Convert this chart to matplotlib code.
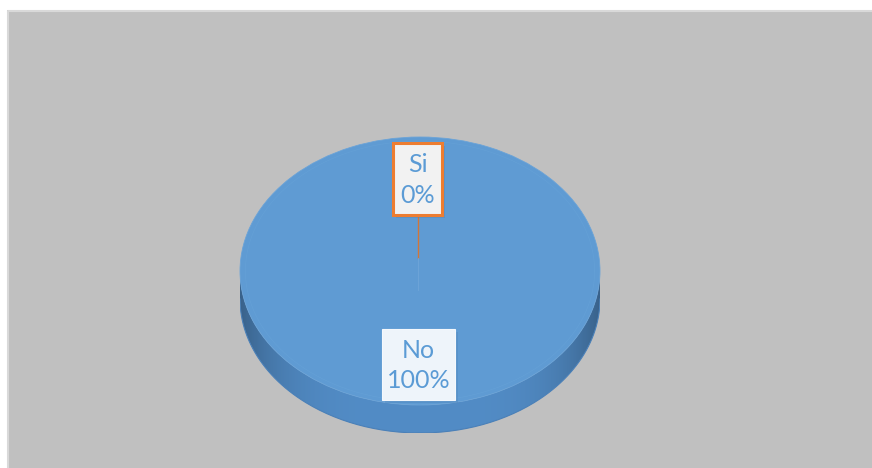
import numpy as np
import matplotlib.pyplot as plt
from matplotlib.patches import Rectangle, Polygon

# data
labels = ["Si", "No"]
values = [0, 100]

W, H = 872, 468
fig = plt.figure(figsize=(W / 100, H / 100), dpi=100)
fig.patch.set_facecolor("white")

# background axes in pixel coordinates
bg = fig.add_axes([0, 0, 1, 1])
bg.set_xlim(0, W)
bg.set_ylim(H, 0)
bg.axis("off")
bg.add_patch(Rectangle((7, 10), W - 7, H - 10, facecolor="#c0c0c0",
                       edgecolor="none"))
bg.plot([7.5, 7.5, W], [H, 10.5, 10.5], color="#d9d9d9", linewidth=1.5)

# pie axes placed over the ellipse (top face 360 x 268 px, side depth 28 px)
cx, top, rx, ry, depth = 420, 137, 180, 134, 28
left = cx - rx
ax_h = 2 * ry + depth
ax = fig.add_axes([left / W, 1 - (top + ax_h) / H, 2 * rx / W, ax_h / H])
d = depth / ry

# side of the cylinder, with a shading gradient
t = np.linspace(np.pi, 2 * np.pi, 200)
xs = np.cos(t)
side = np.concatenate([np.column_stack([xs, np.sin(t) - d]),
                       np.column_stack([xs[::-1], np.sin(t[::-1])])])
side_patch = Polygon(side, closed=True, facecolor="none", edgecolor="none")
ax.add_patch(side_patch)
gx = np.linspace(-1, 1, 300)
shade = 1 - 0.3 * np.abs(gx) ** 4
base = np.array([0x52, 0x8c, 0xc6]) / 255
img = np.clip(base[None, None, :] * shade[None, :, None], 0, 1)
img = np.repeat(img, 2, axis=0)
im = ax.imshow(img, extent=(-1, 1, -1 - d, 0), aspect="auto", zorder=1)
im.set_clip_path(side_patch)
ax.plot(xs, np.sin(t) - d, color="#4a80b8", linewidth=0.8, zorder=2)

wedges, _ = ax.pie(values, startangle=90, counterclock=False,
                   colors=["#ed7d31", "#5f9bd3"], radius=1,
                   wedgeprops=dict(edgecolor="#6aa3d8", linewidth=0.6))
for w in wedges:
    w.set_zorder(3)
ax.set_aspect("auto")
ax.set_xlim(-1, 1)
ax.set_ylim(-1 - d, 1)
ax.axis("off")

# faint inner rim line on the top face
tt = np.linspace(0, 2 * np.pi, 300)
ax.plot(0.97 * np.cos(tt), 0.97 * np.sin(tt), color="#64a0d6",
        linewidth=0.5, zorder=4)

total = sum(values)
pcts = [round(v * 100 / total) for v in values]
txt_color = "#5b9bd5"
font = ["Lato", "DejaVu Sans"]

# overlay axes for labels
fg = fig.add_axes([0, 0, 1, 1])
fg.set_xlim(0, W)
fg.set_ylim(H, 0)
fg.axis("off")

# leader line for "Si"
fg.plot([418, 418], [214, 258], color="#d0763a", linewidth=1.0, zorder=5)
fg.plot([418, 418], [258, 290], color="#6fa5d8", linewidth=0.6, zorder=5)

# label boxes (pixel coordinates)
boxes = [
    dict(x=393, y=143, w=49, h=72, fc="#f2f2f2", ec="#ed7d31", lw=2.2),
    dict(x=382, y=329, w=73, h=71, fc="#eef4fa", ec="#f4f8fc", lw=0.8),
]
for lab, p, b in zip(labels, pcts, boxes):
    fg.add_patch(Rectangle((b["x"] + 3, b["y"] + 3), b["w"], b["h"],
                           facecolor="#4a7fb5", alpha=0.3, edgecolor="none",
                           zorder=5))
    fg.add_patch(Rectangle((b["x"], b["y"]), b["w"], b["h"], facecolor=b["fc"],
                           edgecolor=b["ec"], linewidth=b["lw"], zorder=6))
    fg.text(b["x"] + b["w"] / 2, b["y"] + b["h"] / 2 + 1, f"{lab}\n{p}%",
            ha="center", va="center", fontsize=18, color=txt_color,
            family=font, linespacing=1.4, zorder=7)

fig.savefig("out.png", dpi=100)
